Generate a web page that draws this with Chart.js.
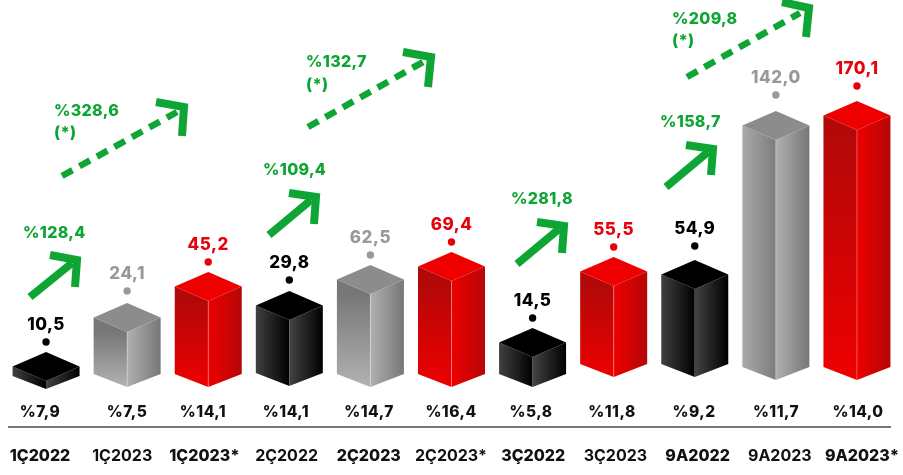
<!DOCTYPE html>
<html>
<head>
<meta charset="utf-8">
<style>html,body{margin:0;padding:0;background:#fff}canvas{display:block}</style>
<script src="https://cdn.jsdelivr.net/npm/chart.js@4/dist/chart.umd.min.js"></script>
</head>
<body>
<canvas id="c" width="903" height="475"></canvas>
<script>
const categories = ['1Ç2022','1Ç2023','1Ç2023*','2Ç2022','2Ç2023','2Ç2023*','3Ç2022','3Ç2023','9A2022','9A2023','9A2023*'];
const valueLabels = ['10,5','24,1','45,2','29,8','62,5','69,4','14,5','55,5','54,9','142,0','170,1'];
const marginLabels = ['%7,9','%7,5','%14,1','%14,1','%14,7','%16,4','%5,8','%11,8','%9,2','%11,7','%14,0'];
const marginX = [40,127,203,286,369,451,531,612,694,776,858];
const barKinds = ['black','gray','red','black','gray','red','black','red','black','gray','red'];
const boldTicks = [1,0,1,0,1,0,1,0,1,0,1];

// the bars in the source are not drawn to scale, so these are levels read off the picture, not the values above
const barBottoms = [0,2,2,3,2,2,2,12,12,9,9];
const barTops = [8,57,88,69,95,108,32,103,100,249,259];
const dotLevels = [47,98,127,109,134,147,71,142,143,294,303];

const growthLabels = ['%128,4','%109,4','%281,8','%158,7','%328,6','%132,7','%209,8'];
const growthX = [23,263,511,660,54,306,672];
const growthY = [156,219,190,267,278,327,370];
const starX = [54,306,672];
const starY = [256,304,348];

const solidShafts = [[[30,92],[72,126]],[[269,154],[311,189]],[[517,125],[559,160]],[[666,202],[708,237]]];
const solidHeads = [[[50,134],[77,129],[75,102]],[[289,196],[316,192],[314,165]],[[537,167],[564,163],[562,136]],[[686,244],[713,240],[711,214]]];
const dashedShafts = [[[62,213],[177,277]],[[308,262],[423,327]],[[687,312],[800,376]]];
const dashedHeads = [[[156,287],[184,282],[182,253]],[[403,337],[431,332],[428,302]],[[782,387],[809,381],[806,352]]];

const GREEN = '#0fa535';
const FONT = 'Inter, sans-serif';
const BOX_HALF = 33.5;
const dotColors = { black: '#000', gray: '#999', red: '#e8000b' };

function xy(p) { return { x: p[0], y: p[1] }; }
function arrowSet(points, width, dash) {
    return {
        type: 'line', xAxisID: 'xa', yAxisID: 'y', data: points.map(xy), borderColor: GREEN, borderWidth: width,
        borderDash: dash || [], borderJoinStyle: 'miter', borderCapStyle: 'butt', pointRadius: 0, tension: 0, clip: false
    };
}

function faceGradient(ctx, x0, y0, x1, y1, a, b) {
    const g = ctx.createLinearGradient(x0, y0, x1, y1);
    g.addColorStop(0, a);
    g.addColorStop(1, b);
    return g;
}
function fillPoly(ctx, pts, fill) {
    ctx.beginPath();
    pts.forEach((p, i) => i ? ctx.lineTo(p[0], p[1]) : ctx.moveTo(p[0], p[1]));
    ctx.closePath();
    ctx.fillStyle = fill;
    ctx.fill();
}
function drawBox(ctx, x, y, b, kind, i) {
    const hw = BOX_HALF, d = 14.5, d2 = 13;
    const left = [[x - hw, y - d], [x, y], [x, b], [x - hw, b - d2]];
    const right = [[x, y], [x + hw, y - d], [x + hw, b - d2], [x, b]];
    const top = [[x, y - 2 * d], [x + hw, y - d], [x, y], [x - hw, y - d]];
    let lf, rf, tf;
    if (kind === 'black') {
        lf = faceGradient(ctx, x - hw, 0, x, 0, '#404040', '#000');
        rf = faceGradient(ctx, x, 0, x + hw, 0, '#454345', '#000');
        tf = '#000';
    } else if (kind === 'gray') {
        lf = i === 9 ? faceGradient(ctx, x - hw, 0, x, 0, '#aaa', '#7c7c7c') : faceGradient(ctx, 0, y, 0, b, '#777', '#b2b2b2');
        rf = faceGradient(ctx, x, 0, x + hw, 0, '#b0b0b0', '#777');
        tf = '#8c8c8c';
    } else {
        lf = faceGradient(ctx, 0, y, 0, b, '#b30808', '#ee0000');
        rf = faceGradient(ctx, x, 0, x + hw, 0, '#ee0000', '#b50606');
        tf = '#ee0000';
    }
    fillPoly(ctx, left, lf);
    fillPoly(ctx, right, rf);
    fillPoly(ctx, top, tf);
    if (kind !== 'black') {
        ctx.strokeStyle = 'rgba(255,255,255,0.3)';
        ctx.lineWidth = 1;
        ctx.beginPath();
        ctx.moveTo(x, y);
        ctx.lineTo(x, b);
        ctx.stroke();
    }
}

const boxesAndText = {
    id: 'boxesAndText',
    beforeDatasetsDraw(chart) {
        const ctx = chart.ctx, sx = chart.scales.x;
        chart.getDatasetMeta(0).data.forEach((bar, i) => drawBox(ctx, sx.getPixelForValue(i), bar.y, bar.base, barKinds[i], i));
    },
    afterDatasetsDraw(chart) {
        const ctx = chart.ctx, xa = chart.scales.xa, y = chart.scales.y;
        const area = chart.chartArea;
        ctx.save();
        ctx.textBaseline = 'middle';
        ctx.textAlign = 'center';
        ctx.letterSpacing = '0.5px';
        ctx.font = '800 17px ' + FONT;
        chart.getDatasetMeta(1).data.forEach((pt, i) => {
            ctx.fillStyle = dotColors[barKinds[i]];
            ctx.fillText(valueLabels[i], pt.x, pt.y - 17);
        });
        ctx.fillStyle = '#111';
        ctx.font = '800 15.5px ' + FONT;
        marginLabels.forEach((t, i) => {
            ctx.fillText(t, xa.getPixelForValue(marginX[i]), area.bottom + 23);
        });
        ctx.letterSpacing = '0.3px';
        ctx.textAlign = 'left';
        ctx.fillStyle = GREEN;
        ctx.font = '800 16px ' + FONT;
        growthLabels.forEach((t, i) => ctx.fillText(t, xa.getPixelForValue(growthX[i]), y.getPixelForValue(growthY[i])));
        starX.forEach((v, i) => ctx.fillText('(*)', xa.getPixelForValue(v), y.getPixelForValue(starY[i])));
        // rule between the margin row and the period labels
        ctx.strokeStyle = '#777';
        ctx.lineWidth = 2;
        ctx.beginPath();
        ctx.moveTo(8, area.bottom + 38);
        ctx.lineTo(891, area.bottom + 38);
        ctx.stroke();
        ctx.restore();
    }
};

const datasets = [
    {
        type: 'bar', xAxisID: 'x', yAxisID: 'y', data: barBottoms.map((b, i) => [b, barTops[i]]),
        backgroundColor: 'transparent'
    },
    {
        type: 'line', xAxisID: 'x', yAxisID: 'y', data: dotLevels, showLine: false, pointRadius: 3.7, pointBorderWidth: 0,
        pointBackgroundColor: barKinds.map(k => dotColors[k])
    }
];
solidShafts.forEach(s => datasets.push(arrowSet(s, 8)));
solidHeads.forEach(s => datasets.push(arrowSet(s, 8)));
dashedShafts.forEach(s => datasets.push(arrowSet(s, 6.5, [12, 8])));
dashedHeads.forEach(s => datasets.push(arrowSet(s, 8)));

new Chart(document.getElementById('c').getContext('2d'), {
    data: { labels: categories, datasets: datasets },
    plugins: [boxesAndText],
    options: {
        responsive: false,
        animation: false,
        layout: { autoPadding: false, padding: { left: 5.5, right: 5.5, top: 0, bottom: 0 } },
        plugins: { legend: { display: false }, tooltip: { enabled: false } },
        scales: {
            x: { type: 'category', display: false, offset: true },
            xa: {
                type: 'linear', position: 'bottom', min: 5.5, max: 897.5,
                grid: { display: false, drawTicks: false },
                border: { display: false },
                afterBuildTicks: scale => {
                    scale.ticks = categories.map((c, i) => ({ value: 40 + 82.2 * i }));
                },
                afterFit: scale => { scale.height = 86; scale.paddingLeft = 0; scale.paddingRight = 0; },
                ticks: {
                    padding: 58,
                    autoSkip: false,
                    maxRotation: 0,
                    color: '#111',
                    callback: (v, i) => categories[i],
                    font: c => ({ family: FONT, size: 16, weight: boldTicks[c.index] ? '800' : '700' })
                }
            },
            y: { type: 'linear', display: false, min: 0, max: 389 }
        }
    }
});
</script>
</body>
</html>
